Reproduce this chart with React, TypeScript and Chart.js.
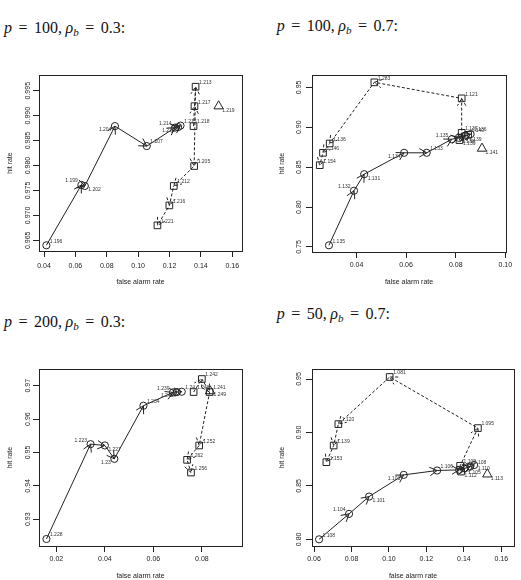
import React, { useEffect, useRef } from 'react';
import { Chart, registerables } from 'chart.js';

Chart.register(...registerables);

const INK = '#222';
const LABEL_INK = '#333';
const SANS = '"Liberation Sans", Arial, sans-serif';
const SERIF = '"Liberation Serif", "Times New Roman", serif';

// ---------- p = 100, rho_b = 0.3 ----------
const p1CircleX = [0.0415, 0.0638, 0.066, 0.0852, 0.1055, 0.1235, 0.1255, 0.127];
const p1CircleY = [0.964, 0.9761, 0.9759, 0.9879, 0.9839, 0.9876, 0.9877, 0.988];
const p1CircleLabels = ['1.196', '1.199', '1.202', '1.204', '1.207', '1.214', '1.210', '1.215'];
const p1CirclePos = ['ne', 'nw', 'se', 'sw', 'ne', 'nw', 'sw', 'ne'];
const p1SquareX = [0.1353, 0.1359, 0.1366, 0.1357, 0.1227, 0.1199, 0.1123];
const p1SquareY = [0.9879, 0.9919, 0.9958, 0.9799, 0.9759, 0.972, 0.968];
const p1SquareLabels = ['1.218', '1.217', '1.213', '1.205', '1.212', '1.216', '1.221'];
const p1SquarePos = ['ne', 'ne', 'ne', 'ne', 'ne', 'ne', 'ne'];
const p1TriX = [0.1513];
const p1TriY = [0.9919];
const p1TriLabels = ['1.219'];
const p1XTicks = ['0.04', '0.06', '0.08', '0.10', '0.12', '0.14', '0.16'];
const p1YTicks = ['0.965', '0.970', '0.975', '0.980', '0.985', '0.990', '0.995'];

// ---------- p = 100, rho_b = 0.7 ----------
const p2CircleX = [0.0289, 0.039, 0.0431, 0.0592, 0.0683, 0.0784, 0.0812, 0.084, 0.086];
const p2CircleY = [0.7521, 0.8205, 0.8412, 0.868, 0.868, 0.885, 0.8868, 0.8895, 0.8915];
const p2CircleLabels = ['1.135', '1.132', '1.131', '1.134', '1.133', '1.135', '1.138', '1.139', '1.136'];
const p2CirclePos = ['ne', 'nw', 'se', 'sw', 'ne', 'nw', 'se', 'se', 'ne'];
const p2SquareX = [0.085, 0.0815, 0.0824, 0.0824, 0.0472, 0.0292, 0.0265, 0.0252];
const p2SquareY = [0.8905, 0.8839, 0.893, 0.9362, 0.9563, 0.8797, 0.868, 0.8525];
const p2SquareLabels = ['1.140', '1.139', '1.137', '1.121', '1.283', '1.136', '1.146', '1.154'];
const p2SquarePos = ['ne', 'se', 'ne', 'ne', 'ne', 'ne', 'ne', 'ne'];
const p2TriX = [0.0906];
const p2TriY = [0.8734];
const p2TriLabels = ['1.141'];
const p2XTicks = ['0.04', '0.06', '0.08', '0.10'];
const p2YTicks = ['0.75', '0.80', '0.85', '0.90', '0.95'];

// ---------- p = 200, rho_b = 0.3 ----------
const p3CircleX = [0.0159, 0.0341, 0.04, 0.0439, 0.0559, 0.0681, 0.0697, 0.0717];
const p3CircleY = [0.9241, 0.9525, 0.9521, 0.9481, 0.964, 0.968, 0.9681, 0.9682];
const p3CircleLabels = ['1.228', '1.223', '1.227', '1.23', '1.234', '1.239', '1.246', '1.24'];
const p3CirclePos = ['ne', 'nw', 'se', 'sw', 'ne', 'nw', 'sw', 'ne'];
const p3SquareX = [0.0766, 0.08, 0.0832, 0.0789, 0.0739, 0.0755];
const p3SquareY = [0.9681, 0.972, 0.9681, 0.9521, 0.9478, 0.944];
const p3SquareLabels = ['1.248', '1.242', '1.241', '1.252', '1.262', '1.256'];
const p3SquarePos = ['ne', 'ne', 'ne', 'ne', 'ne', 'ne'];
const p3TriX = [0.0834];
const p3TriY = [0.9684];
const p3TriLabels = ['1.249'];
const p3XTicks = ['0.02', '0.04', '0.06', '0.08'];
const p3YTicks = ['0.93', '0.94', '0.95', '0.96', '0.97'];

// ---------- p = 50, rho_b = 0.7 ----------
const p4CircleX = [0.0627, 0.0787, 0.0894, 0.1079, 0.1257, 0.1375, 0.1405, 0.1434, 0.1455];
const p4CircleY = [0.8, 0.8238, 0.84, 0.8603, 0.8644, 0.865, 0.8665, 0.8681, 0.8695];
const p4CircleLabels = ['1.108', '1.104', '1.101', '1.103', '1.106', '1.107', '1.105', '1.108', '1.110'];
const p4CirclePos = ['ne', 'nw', 'se', 'sw', 'ne', 'ne', 'se', 'ne', 'se'];
const p4SquareX = [0.1385, 0.138, 0.1475, 0.1004, 0.073, 0.0705, 0.0666];
const p4SquareY = [0.8634, 0.8688, 0.9041, 0.9519, 0.9078, 0.8878, 0.8722];
const p4SquareLabels = ['1.112', '1.109', '1.095', '1.081', '1.120', '1.139', '1.153'];
const p4SquarePos = ['se', 'ne', 'ne', 'ne', 'ne', 'ne', 'ne'];
const p4TriX = [0.1525];
const p4TriY = [0.8609];
const p4TriLabels = ['1.113'];
const p4XTicks = ['0.06', '0.08', '0.10', '0.12', '0.14', '0.16'];
const p4YTicks = ['0.80', '0.85', '0.90', '0.95'];

interface PanelData {
  p: string;
  rho: string;
  circleX: number[];
  circleY: number[];
  circleLabels: string[];
  circlePos: string[];
  squareX: number[];
  squareY: number[];
  squareLabels: string[];
  squarePos: string[];
  triX: number[];
  triY: number[];
  triLabels: string[];
  xTicks: string[];
  yTicks: string[];
  xRange: [number, number];
  yRange: [number, number];
}

interface Frame {
  left: number;
  top: number;
  width: number;
  height: number;
  areaLeft: number;
  areaTop: number;
  areaRight: number;
  areaBottom: number;
  xTickPad: number;
  yTickPad: number;
  xTitlePad: number;
  yTitlePad: number;
  titleLeft: number;
  titleTop: number;
}

const panels: PanelData[] = [
  {
    p: '100', rho: '0.3',
    circleX: p1CircleX, circleY: p1CircleY, circleLabels: p1CircleLabels, circlePos: p1CirclePos,
    squareX: p1SquareX, squareY: p1SquareY, squareLabels: p1SquareLabels, squarePos: p1SquarePos,
    triX: p1TriX, triY: p1TriY, triLabels: p1TriLabels,
    xTicks: p1XTicks, yTicks: p1YTicks,
    xRange: [0.0368, 0.1662], yRange: [0.96286, 0.99815],
  },
  {
    p: '100', rho: '0.7',
    circleX: p2CircleX, circleY: p2CircleY, circleLabels: p2CircleLabels, circlePos: p2CirclePos,
    squareX: p2SquareX, squareY: p2SquareY, squareLabels: p2SquareLabels, squarePos: p2SquarePos,
    triX: p2TriX, triY: p2TriY, triLabels: p2TriLabels,
    xTicks: p2XTicks, yTicks: p2YTicks,
    xRange: [0.02207, 0.10027], yRange: [0.74372, 0.96548],
  },
  {
    p: '200', rho: '0.3',
    circleX: p3CircleX, circleY: p3CircleY, circleLabels: p3CircleLabels, circlePos: p3CirclePos,
    squareX: p3SquareX, squareY: p3SquareY, squareLabels: p3SquareLabels, squarePos: p3SquarePos,
    triX: p3TriX, triY: p3TriY, triLabels: p3TriLabels,
    xTicks: p3XTicks, yTicks: p3YTicks,
    xRange: [0.01283, 0.09655], yRange: [0.922, 0.975],
  },
  {
    p: '50', rho: '0.7',
    circleX: p4CircleX, circleY: p4CircleY, circleLabels: p4CircleLabels, circlePos: p4CirclePos,
    squareX: p4SquareX, squareY: p4SquareY, squareLabels: p4SquareLabels, squarePos: p4SquarePos,
    triX: p4TriX, triY: p4TriY, triLabels: p4TriLabels,
    xTicks: p4XTicks, yTicks: p4YTicks,
    xRange: [0.05893, 0.16676], yRange: [0.79375, 0.95938],
  },
];

const frames: Frame[] = [
  { left: 0, top: 40, width: 260, height: 250, areaLeft: 39, areaTop: 35, areaRight: 242, areaBottom: 211,
    xTickPad: 4.5, yTickPad: -4.1, xTitlePad: 4.1, yTitlePad: 5.8, titleLeft: 4, titleTop: 20 },
  { left: 260, top: 40, width: 261, height: 250, areaLeft: 52, areaTop: 35, areaRight: 246, areaBottom: 212,
    xTickPad: 2.8, yTickPad: -0.1, xTitlePad: 4.1, yTitlePad: 17.5, titleLeft: 276.7, titleTop: 18.3 },
  { left: 0, top: 330, width: 260, height: 250, areaLeft: 39, areaTop: 39, areaRight: 242, areaBottom: 216,
    xTickPad: 3.1, yTickPad: -2.1, xTitlePad: 0, yTitlePad: 5.8, titleLeft: 4, titleTop: 314 },
  { left: 260, top: 330, width: 261, height: 250, areaLeft: 52, areaTop: 39, areaRight: 254, areaBottom: 216,
    xTickPad: 3.1, yTickPad: -0.1, xTitlePad: 0, yTitlePad: 17.5, titleLeft: 276.7, titleTop: 306 },
];

const ARROW_LEN = 8.5;
const ARROW_ANGLE = Math.PI / 6;

// Draws the plot frame, arrowheads at the end of every path segment and the point labels.
const framePlugin = {
  id: 'frameMarks',
  afterDatasetsDraw(chart: any) {
    const { ctx, chartArea: a } = chart;
    ctx.save();
    ctx.strokeStyle = INK;
    ctx.lineWidth = 1;
    ctx.setLineDash([]);
    ctx.strokeRect(
      Math.round(a.left) + 0.5,
      Math.round(a.top) + 0.5,
      Math.round(a.right - a.left),
      Math.round(a.bottom - a.top)
    );

    chart.data.datasets.forEach((ds: any, di: number) => {
      const pts = chart.getDatasetMeta(di).data;
      if (ds.arrowHeads) {
        ctx.save();
        ctx.strokeStyle = INK;
        ctx.lineWidth = 1;
        ctx.setLineDash(ds.borderDash || []);
        for (let i = 1; i < pts.length; i++) {
          const a0 = pts[i - 1];
          const b = pts[i];
          const ang = Math.atan2(b.y - a0.y, b.x - a0.x);
          ctx.beginPath();
          ctx.moveTo(b.x - ARROW_LEN * Math.cos(ang - ARROW_ANGLE), b.y - ARROW_LEN * Math.sin(ang - ARROW_ANGLE));
          ctx.lineTo(b.x, b.y);
          ctx.lineTo(b.x - ARROW_LEN * Math.cos(ang + ARROW_ANGLE), b.y - ARROW_LEN * Math.sin(ang + ARROW_ANGLE));
          ctx.stroke();
        }
        ctx.restore();
      }
      if (ds.pointLabels) {
        ctx.save();
        ctx.font = `5px ${SANS}`;
        ctx.fillStyle = LABEL_INK;
        ctx.textBaseline = 'middle';
        pts.forEach((pt: any, i: number) => {
          const pos: string = ds.labelPos[i] || 'ne';
          const east = pos.includes('e');
          const dx = east ? 3.5 : -3.5;
          const dy = pos.includes('n') ? -4 : pos.includes('s') ? 4 : 0;
          ctx.textAlign = east ? 'left' : 'right';
          ctx.fillText(ds.pointLabels[i], pt.x + dx, pt.y + dy);
        });
        ctx.restore();
      }
    });
    ctx.restore();
  },
};

function toPoints(xs: number[], ys: number[]) {
  return xs.map((x, i) => ({ x, y: ys[i] }));
}

function buildChart(canvas: HTMLCanvasElement, d: PanelData, f: Frame) {
  const xVals = d.xTicks.map(Number);
  const yVals = d.yTicks.map(Number);
  const tickFont = { family: SANS, size: 7 };
  return new Chart(canvas, {
    type: 'scatter',
    data: {
      datasets: [
        {
          data: toPoints(d.circleX, d.circleY),
          showLine: true,
          borderColor: INK,
          borderWidth: 1,
          tension: 0,
          pointStyle: 'circle',
          pointRadius: 3.6,
          pointHoverRadius: 3.6,
          pointBorderWidth: 1,
          pointBorderColor: INK,
          pointBackgroundColor: 'rgba(0,0,0,0)',
          arrowHeads: true,
          pointLabels: d.circleLabels,
          labelPos: d.circlePos,
        } as any,
        {
          data: toPoints(d.squareX, d.squareY),
          showLine: true,
          borderColor: INK,
          borderWidth: 1,
          borderDash: [3, 2],
          tension: 0,
          pointStyle: 'rect',
          pointRadius: 4.7,
          pointHoverRadius: 4.7,
          pointBorderWidth: 1,
          pointBorderColor: INK,
          pointBackgroundColor: 'rgba(0,0,0,0)',
          arrowHeads: true,
          pointLabels: d.squareLabels,
          labelPos: d.squarePos,
        } as any,
        {
          data: toPoints(d.triX, d.triY),
          showLine: false,
          pointStyle: 'triangle',
          pointRadius: 5.4,
          pointHoverRadius: 5.4,
          pointBorderWidth: 1,
          pointBorderColor: INK,
          pointBackgroundColor: 'rgba(0,0,0,0)',
          pointLabels: d.triLabels,
          labelPos: ['se'],
        } as any,
      ],
    },
    options: {
      responsive: false,
      animation: false,
      events: [],
      layout: { padding: { top: f.areaTop, right: f.width - f.areaRight, left: 0, bottom: 0 } },
      plugins: { legend: { display: false }, tooltip: { enabled: false }, title: { display: false } },
      scales: {
        x: {
          type: 'linear',
          position: 'bottom',
          min: d.xRange[0],
          max: d.xRange[1],
          afterBuildTicks: (s: any) => {
            s.ticks = xVals.map((v) => ({ value: v }));
          },
          afterFit: (s: any) => {
            s.height = f.height - f.areaBottom;
          },
          ticks: {
            autoSkip: false,
            minRotation: 0,
            maxRotation: 0,
            padding: f.xTickPad,
            color: INK,
            font: tickFont,
            callback: (_v: any, i: number) => d.xTicks[i],
          },
          grid: { drawOnChartArea: false, drawTicks: true, tickLength: 6, color: INK, lineWidth: 1 },
          border: { display: false },
          title: {
            display: true,
            text: 'false alarm rate',
            color: INK,
            font: tickFont,
            padding: { top: 0, bottom: f.xTitlePad },
          },
        },
        y: {
          type: 'linear',
          position: 'left',
          min: d.yRange[0],
          max: d.yRange[1],
          afterBuildTicks: (s: any) => {
            s.ticks = yVals.map((v) => ({ value: v }));
          },
          afterFit: (s: any) => {
            s.width = f.areaLeft;
          },
          ticks: {
            autoSkip: false,
            minRotation: 90,
            maxRotation: 90,
            crossAlign: 'center',
            padding: f.yTickPad,
            color: INK,
            font: tickFont,
            callback: (_v: any, i: number) => d.yTicks[i],
          },
          grid: { drawOnChartArea: false, drawTicks: true, tickLength: 6, color: INK, lineWidth: 1 },
          border: { display: false },
          title: {
            display: true,
            text: 'hit rate',
            color: INK,
            font: tickFont,
            padding: { top: f.yTitlePad, bottom: 0 },
          },
        },
      },
    } as any,
    plugins: [framePlugin],
  });
}

function PanelTitle({ p, rho }: { p: string; rho: string }) {
  const rel: React.CSSProperties = { margin: '0 6.5px' };
  return (
    <span>
      <i>p</i>
      <span style={rel}>=</span>
      {p},
      <span style={{ marginLeft: 3.5 }} />
      <i>ρ</i>
      <i style={{ fontSize: 11, position: 'relative', top: 3 }}>b</i>
      <span style={rel}>=</span>
      {rho}:
    </span>
  );
}

function Panel({ data, frame }: { data: PanelData; frame: Frame }) {
  const ref = useRef<HTMLCanvasElement>(null);
  useEffect(() => {
    if (!ref.current) return;
    const chart = buildChart(ref.current, data, frame);
    return () => chart.destroy();
  }, [data, frame]);
  return (
    <>
      <div
        style={{
          position: 'absolute',
          left: frame.titleLeft,
          top: frame.titleTop,
          fontFamily: SERIF,
          fontSize: 16,
          lineHeight: '16px',
          color: '#111',
          whiteSpace: 'nowrap',
        }}
      >
        <PanelTitle p={data.p} rho={data.rho} />
      </div>
      <canvas
        ref={ref}
        width={frame.width}
        height={frame.height}
        style={{ position: 'absolute', left: frame.left, top: frame.top, width: frame.width, height: frame.height }}
      />
    </>
  );
}

export default function App() {
  return (
    <div style={{ position: 'absolute', left: 0, top: 0, width: 521, height: 580, background: '#fff', overflow: 'hidden' }}>
      {panels.map((d, i) => (
        <Panel key={i} data={d} frame={frames[i]} />
      ))}
    </div>
  );
}
